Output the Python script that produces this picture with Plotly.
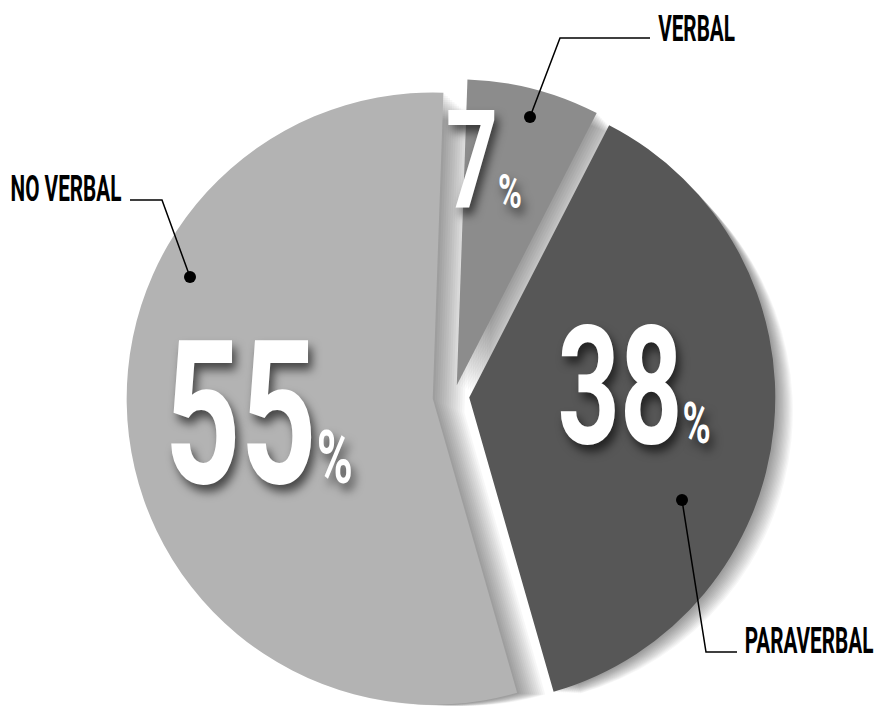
import plotly.graph_objects as go

# ---- data ----
categories = ["VERBAL", "PARAVERBAL", "NO VERBAL"]
values = [7, 38, 55]
colors = ["#8c8c8c", "#575757", "#b3b3b3"]
pulls = [0.036, 0.05, 0.07]

W, H = 880, 724
FONT = "Roboto, Arial, sans-serif"


def px_x(x):
    return x / W


def px_y(y):
    return 1 - y / H


def domain(cx, cy, half):
    hy = min(half, H - cy, cy)
    return dict(x=[px_x(cx - half), px_x(cx + half)],
                y=[px_y(cy + hy), px_y(cy - hy)])


CX, CY, HALF = 454, 396, 327.5

fig = go.Figure()

# soft drop-shadow layers (stacked translucent copies)
for k in range(1, 15):
    fig.add_trace(go.Pie(
        labels=categories, values=values, sort=False, direction="clockwise",
        rotation=2, pull=pulls, textinfo="none", hoverinfo="skip",
        showlegend=False,
        marker=dict(colors=["rgba(0,0,0,0.032)"] * 3, line=dict(width=0)),
        domain=domain(CX + 2.2 * k, CY + 1.0 * k, HALF + 0.8 * k),
    ))

fig.add_trace(go.Pie(
    labels=categories, values=values, sort=False, direction="clockwise",
    rotation=2, pull=pulls, textinfo="none", hoverinfo="skip",
    showlegend=False,
    marker=dict(colors=colors, line=dict(width=0)),
    domain=domain(CX, CY, HALF),
))

shadow = "5px 6px 10px rgba(0,0,0,0.6)"

# big percentage numbers
num_specs = [
    # value index, center x, center y, main size, pct size
    (0, 483, 161, 138, 49),
    (1, 634, 386, 165, 58),
    (2, 258, 414, 201, 74),
]
annotations = []
for i, cx, cy, s, ps in num_specs:
    annotations.append(dict(
        x=px_x(cx), y=px_y(cy), xref="paper", yref="paper",
        xanchor="center", yanchor="middle", showarrow=False,
        text=f"{values[i]}<span style='font-size:{ps}px'>%</span>",
        font=dict(family=FONT, size=s, color="white", weight=700, shadow=shadow),
    ))

# category labels
label_specs = [
    (0, 696, 29),
    (1, 809, 640),
    (2, 66, 189),
]
for i, x, y in label_specs:
    annotations.append(dict(
        x=px_x(x), y=px_y(y), xref="paper", yref="paper",
        xanchor="center", yanchor="middle", showarrow=False,
        text=categories[i],
        font=dict(family=FONT, size=37, color="black", weight=700),
    ))

# leader lines with dots
leaders = [
    [(530, 117), (560, 38), (650, 38)],
    [(682, 500), (706, 652), (737, 652)],
    [(190, 277), (162, 200), (130, 200)],
]
shapes = []
for pts in leaders:
    path = "M " + " L ".join(f"{px_x(x):.5f},{px_y(y):.5f}" for x, y in pts)
    shapes.append(dict(type="path", path=path, xref="paper", yref="paper",
                       line=dict(color="black", width=1.5)))
    dx, dy = pts[0]
    shapes.append(dict(type="circle", xref="paper", yref="paper",
                       x0=px_x(dx - 6), x1=px_x(dx + 6),
                       y0=px_y(dy + 6), y1=px_y(dy - 6),
                       fillcolor="black", line=dict(width=0)))

fig.update_layout(
    width=W, height=H, margin=dict(l=0, r=0, t=0, b=0),
    paper_bgcolor="white", plot_bgcolor="white",
    annotations=annotations, shapes=shapes,
)

# condensed look for the display type (narrow headline font)
css = (
    "g.annotation text.annotation-text{transform-box:fill-box;transform-origin:center;}"
    + "".join(
        f"g.annotation[data-index='{j}'] text.annotation-text{{transform:scaleX(0.66);}}"
        for j in range(3))
    + "".join(
        f"g.annotation[data-index='{j}'] text.annotation-text{{transform:scaleX(0.56);}}"
        for j in range(3, 6))
)
post = ("var st=document.createElement('style');st.textContent=" + repr(css)
        + ";document.head.appendChild(st);")

fig.write_html("out.html", post_script=post)
